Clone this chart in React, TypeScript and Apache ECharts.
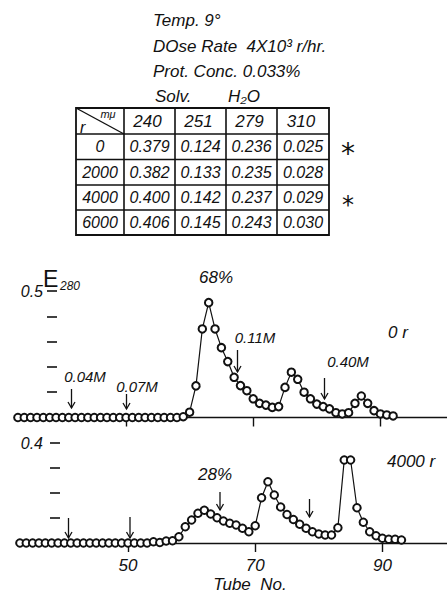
import React, { useEffect, useRef } from "react";
import * as echarts from "echarts";

// ---- data ----
const TOP_START_TUBE = 33;
const topValues = [
  0, 0, 0, 0, 0, 0, 0, 0, 0, 0, 0, 0, 0, 0, 0, 0, 0, 0, 0, 0, 0, 0, 0, 0, 0, 0,
  0.003, 0.021, 0.125, 0.35, 0.454, 0.35, 0.276, 0.221, 0.159, 0.126, 0.106, 0.074,
  0.056, 0.049, 0.04, 0.043, 0.119, 0.179, 0.151, 0.1, 0.074, 0.053, 0.043, 0.034,
  0.019, 0.014, 0.019, 0.056, 0.085, 0.056, 0.027, 0.014, 0.01, 0.006,
];
const BOTTOM_START_TUBE = 33;
const bottomValues = [
  0, 0, 0, 0, 0, 0, 0, 0, 0, 0, 0, 0, 0, 0, 0, 0, 0, 0, 0, 0, 0,
  0.005, 0.002, 0.008, 0.009, 0.025, 0.065, 0.092, 0.119, 0.131, 0.116, 0.101, 0.088,
  0.079, 0.072, 0.059, 0.045, 0.069, 0.181, 0.245, 0.192, 0.144, 0.114, 0.094, 0.075,
  0.059, 0.045, 0.036, 0.032, 0.032, 0.061, 0.332, 0.332, 0.141, 0.083, 0.045, 0.029,
  0.019, 0.015, 0.015, 0.012,
];
const xTickValues = [50, 70, 90];
const topYTicks = [0.1, 0.2, 0.3, 0.4, 0.5];
const bottomYTicks = [0.1, 0.2, 0.3, 0.4];

const tableWavelengths = ["240", "251", "279", "310"];
const tableDoses = ["0", "2000", "4000", "6000"];
const tableRows = [
  ["0.379", "0.124", "0.236", "0.025"],
  ["0.382", "0.133", "0.235", "0.028"],
  ["0.400", "0.142", "0.237", "0.029"],
  ["0.406", "0.145", "0.243", "0.030"],
];
const tableMarks = ["*", "", "*", ""];

const FONT = "'Liberation Sans', 'DejaVu Sans', sans-serif";

function txt(text: string, x: number, y: number, size: number, align = "left", extra: any = {}) {
  return {
    type: "text",
    x,
    y,
    silent: true,
    style: {
      text,
      fontSize: size,
      fontFamily: FONT,
      fontStyle: "italic",
      fill: "#111",
      align,
      textAlign: align,
      verticalAlign: "middle",
      textVerticalAlign: "middle",
      ...extra,
    },
  };
}

function arrow(x: number, y1: number, y2: number) {
  return [
    { type: "line", silent: true, shape: { x1: x, y1, x2: x, y2 }, style: { stroke: "#111", lineWidth: 1.3 } },
    {
      type: "polyline",
      silent: true,
      shape: { points: [[x - 3.5, y2 - 6], [x, y2], [x + 3.5, y2 - 6]] },
      style: { stroke: "#111", lineWidth: 1.3, fill: "none" },
    },
  ];
}

const PX = 6.36;

export default function App() {
  const ref = useRef<HTMLDivElement>(null);
  useEffect(() => {
    if (!ref.current) return;
    const chart = echarts.init(ref.current, null, { renderer: "svg" });

    const topData = topValues.map((v, i) => [TOP_START_TUBE + i, v]);
    const bottomData = bottomValues.map((v, i) => [BOTTOM_START_TUBE + i, v]);

    const topLeft = 126 - (50 - 33) * PX;
    const botLeft = 128 - (50 - 33) * PX;

    // table graphic
    const tX = [76, 124, 175, 226, 277, 329];
    const tY = [108, 134, 159.5, 185, 210, 235];
    const table: any[] = [];
    table.push({
      type: "rect",
      silent: true,
      shape: { x: tX[0], y: tY[0], width: tX[5] - tX[0], height: tY[5] - tY[0] },
      style: { stroke: "#111", lineWidth: 1.8, fill: "none" },
    });
    for (let i = 1; i < 5; i++) {
      table.push({ type: "line", silent: true, shape: { x1: tX[i], y1: tY[0], x2: tX[i], y2: tY[5] }, style: { stroke: "#111", lineWidth: 1.6 } });
      table.push({ type: "line", silent: true, shape: { x1: tX[0], y1: tY[i], x2: tX[5], y2: tY[i] }, style: { stroke: "#111", lineWidth: 1.6 } });
    }
    table.push({ type: "line", silent: true, shape: { x1: tX[0], y1: tY[0], x2: tX[1], y2: tY[1] }, style: { stroke: "#111", lineWidth: 1.4 } });
    table.push(txt("r", 80, 127, 16));
    table.push(txt("mμ", 108, 114, 11, "center"));
    tableWavelengths.forEach((w, j) => {
      table.push(txt(w, (tX[j + 1] + tX[j + 2]) / 2 - 2, (tY[0] + tY[1]) / 2, 17, "center"));
    });
    tableDoses.forEach((d, i) => {
      const cy = (tY[i + 1] + tY[i + 2]) / 2;
      table.push(txt(d, (tX[0] + tX[1]) / 2, cy, 16, "center"));
      tableRows[i].forEach((v, j) => {
        table.push(txt(v, (tX[j + 1] + tX[j + 2]) / 2, cy, 16, "center"));
      });
      if (tableMarks[i])
        table.push(
          txt(tableMarks[i], 348, cy + 7, i === 0 ? 28 : 24, "center", {
            fontStyle: "normal",
            fontFamily: "'DejaVu Sans', sans-serif",
          })
        );
    });

    const graphics: any[] = [
      txt("Temp. 9°", 153, 20, 17),
      txt("DOse Rate  4X10³ r/hr.", 153, 46, 17),
      txt("Prot. Conc. 0.033%", 153, 71, 17),
      txt("Solv.", 155, 96, 17),
      txt("H₂O", 228, 96, 17),
      ...table,
      txt("E", 43, 279, 23, "left", { fontStyle: "normal" }),
      txt("280", 60, 286, 12),
      txt("68%", 216, 277, 17, "center"),
      txt("0.11M", 255, 337, 15, "center"),
      txt("0.40M", 348, 361, 15, "center"),
      txt("0.04M", 85, 376, 15, "center"),
      txt("0.07M", 137, 386, 15, "center"),
      txt("0 r", 388, 332, 17),
      ...arrow(71.5, 389, 408),
      ...arrow(126.5, 394, 409),
      ...arrow(237.5, 350, 372),
      ...arrow(324.5, 378, 399),
      txt("28%", 215, 474, 17, "center"),
      txt("4000 r", 387, 461, 17),
      ...arrow(68.5, 518, 538),
      ...arrow(130, 517, 538),
      ...arrow(220, 492, 510),
      ...arrow(309.5, 499, 517),
      txt("Tube  No.", 250, 584, 17, "center"),
    ];

    const baseX = {
      type: "value",
      min: 33,
      max: 103,
      splitLine: { show: false },
      axisLine: { show: true, onZero: false, lineStyle: { color: "#111", width: 1.4 } },
      axisTick: { show: true, customValues: xTickValues, length: 9, lineStyle: { color: "#111", width: 1.4 } },
    };

    chart.setOption({
      animation: false,
      backgroundColor: "#fff",
      grid: [
        { left: topLeft, top: 291, width: 70 * PX, height: 126.5, outerBoundsMode: "none", containLabel: false },
        { left: botLeft, top: 443, width: 70 * PX, height: 100, outerBoundsMode: "none", containLabel: false },
      ],
      xAxis: [
        { ...baseX, gridIndex: 0, axisLabel: { show: false } },
        {
          ...baseX,
          gridIndex: 1,
          axisLabel: {
            show: true,
            customValues: xTickValues,
            margin: 14,
            fontSize: 17,
            fontFamily: FONT,
            fontStyle: "italic",
            color: "#111",
          },
        },
      ],
      yAxis: [
        {
          type: "value",
          gridIndex: 0,
          min: 0,
          max: 0.5,
          offset: -(57 - topLeft),
          splitLine: { show: false },
          axisLine: { show: false },
          axisTick: { show: true, customValues: topYTicks, length: 10, lineStyle: { color: "#111", width: 1.6 } },
          axisLabel: { show: true, customValues: [0.5], margin: 14, fontSize: 16, fontFamily: FONT, fontStyle: "italic", color: "#111" },
        },
        {
          type: "value",
          gridIndex: 1,
          min: 0,
          max: 0.4,
          offset: -(60 - botLeft),
          splitLine: { show: false },
          axisLine: { show: false },
          axisTick: { show: true, customValues: bottomYTicks, length: 10, lineStyle: { color: "#111", width: 1.6 } },
          axisLabel: { show: true, customValues: [0.4], margin: 17, fontSize: 16, fontFamily: FONT, fontStyle: "italic", color: "#111" },
        },
      ],
      series: [
        {
          type: "line",
          name: "0 r",
          xAxisIndex: 0,
          yAxisIndex: 0,
          data: topData,
          clip: false,
          symbol: "emptyCircle",
          symbolSize: 7.5,
          lineStyle: { color: "#111", width: 1.2 },
          itemStyle: { color: "#111", borderWidth: 1.3 },
        },
        {
          type: "line",
          name: "4000 r",
          xAxisIndex: 1,
          yAxisIndex: 1,
          data: bottomData,
          clip: false,
          symbol: "emptyCircle",
          symbolSize: 7.5,
          lineStyle: { color: "#111", width: 1.2 },
          itemStyle: { color: "#111", borderWidth: 1.3 },
        },
      ],
      graphic: graphics,
    });
    return () => chart.dispose();
  }, []);
  return <div ref={ref} style={{ position: "fixed", left: 0, top: 0, width: 447, height: 593 }} />;
}
